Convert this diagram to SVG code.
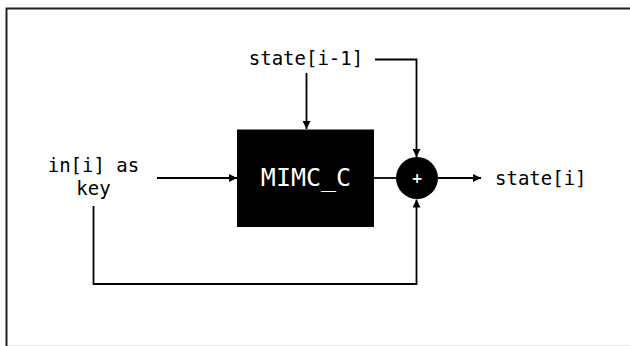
<svg xmlns="http://www.w3.org/2000/svg" width="630" height="346" viewBox="0 0 630 346">
<style>
  .lbl { font-family: "DejaVu Sans Mono", "Liberation Mono", monospace; font-size: 19px; fill: #000; }
  .wire { fill: none; stroke: #000; stroke-width: 1.8; }
</style>
<defs>
  <marker id="arr" viewBox="0 0 10 10" refX="10" refY="5" markerWidth="8" markerHeight="8" markerUnits="userSpaceOnUse" orient="auto">
    <path d="M0,0 L10,5 L0,10 z" fill="#000"/>
  </marker>
</defs>
<rect x="0" y="0" width="630" height="346" fill="#fff"/>
<g id="frame">
  <path d="M6.5,346 L6.5,8.5 L630,8.5" fill="none" stroke="#222" stroke-width="2"/>
  <line x1="8" y1="345.5" x2="630" y2="345.5" stroke="#e6e6e6" stroke-width="1"/>
</g>
<g id="connectors">
  <line class="wire" x1="306.5" y1="73" x2="306.5" y2="129" marker-end="url(#arr)"/>
  <path class="wire" d="M375,59.5 L416.5,59.5 L416.5,157" marker-end="url(#arr)"/>
  <line class="wire" x1="157" y1="178" x2="237" y2="178" marker-end="url(#arr)"/>
  <line class="wire" x1="374" y1="178" x2="396" y2="178"/>
  <line class="wire" x1="438" y1="178" x2="481" y2="178" marker-end="url(#arr)"/>
  <path class="wire" d="M93.5,206 L93.5,284 L416.5,284 L416.5,199.5" marker-end="url(#arr)"/>
</g>
<g id="state_prev">
  <text class="lbl" x="306" y="65" text-anchor="middle">state[i-1]</text>
</g>
<g id="input_key">
  <text class="lbl" x="93.5" y="172" text-anchor="middle">in[i] as</text>
  <text class="lbl" x="93.5" y="195" text-anchor="middle">key</text>
</g>
<g id="mimc">
  <rect x="237" y="129.5" width="137" height="97.5" fill="#000"/>
  <text x="306" y="186" text-anchor="middle" font-family="DejaVu Sans Mono, Liberation Mono, monospace" font-size="25" fill="#fff">MIMC_C</text>
</g>
<g id="adder">
  <circle cx="417" cy="178" r="21" fill="#000"/>
  <text x="417" y="183" text-anchor="middle" font-family="DejaVu Sans, sans-serif" font-size="14" font-weight="bold" fill="#fff">+</text>
</g>
<g id="state_out">
  <text class="lbl" x="495" y="185">state[i]</text>
</g>
</svg>
